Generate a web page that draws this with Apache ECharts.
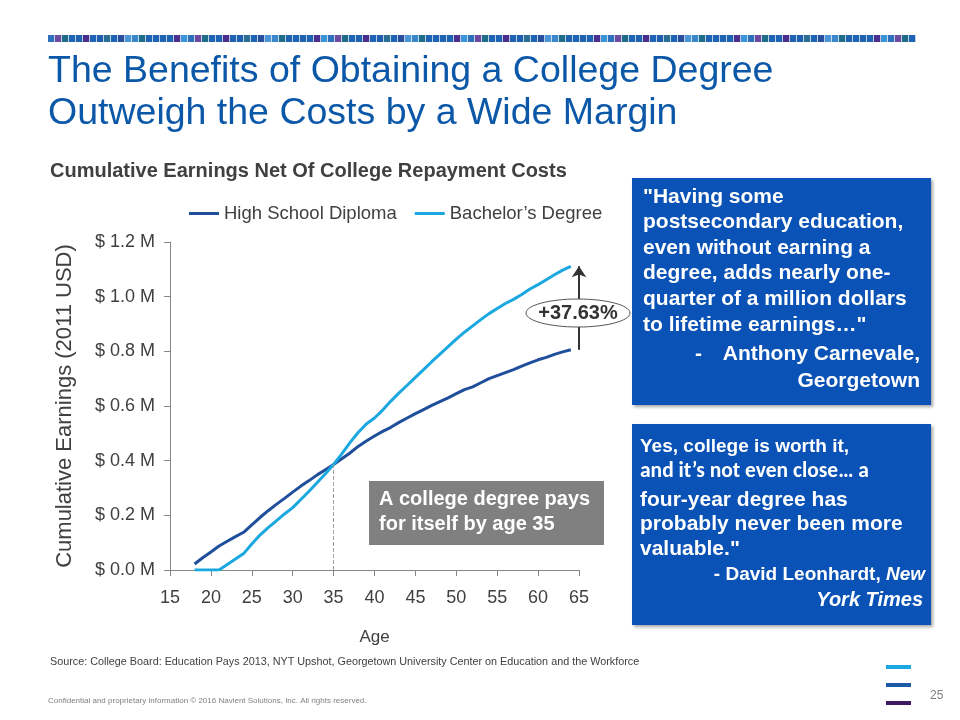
<!DOCTYPE html>
<html>
<head>
<meta charset="utf-8">
<script src="https://cdn.jsdelivr.net/npm/echarts@6/dist/echarts.min.js"></script>
<style>
html,body{margin:0;padding:0;background:#fff;}
#c{width:960px;height:720px;}
</style>
</head>
<body>
<div id="c"></div>
<script>
// ---- data (cumulative earnings, millions of 2011 USD) ----
var ages = [18,19,20,21,22,23,24,25,26,27,28,29,30,31,32,33,34,35,36,37,38,39,40,41,42,43,44,45,46,47,48,49,50,51,52,53,54,55,56,57,58,59,60,61,62,63,64];
var highSchool = [0.022,0.045,0.066,0.088,0.105,0.122,0.138,0.165,0.192,0.217,0.240,0.262,0.285,0.307,0.327,0.348,0.367,0.386,0.407,0.428,0.452,0.472,0.490,0.507,0.522,0.540,0.556,0.572,0.587,0.602,0.616,0.630,0.645,0.660,0.670,0.685,0.700,0.711,0.722,0.733,0.746,0.758,0.769,0.778,0.789,0.798,0.806];
var bachelor = [0,0,0,0,0.020,0.040,0.060,0.095,0.128,0.155,0.180,0.205,0.228,0.258,0.288,0.320,0.352,0.386,0.425,0.466,0.503,0.534,0.556,0.585,0.618,0.648,0.676,0.705,0.733,0.762,0.790,0.817,0.845,0.870,0.893,0.916,0.938,0.957,0.975,0.990,1.008,1.028,1.044,1.062,1.080,1.097,1.111];
var seriesNames = ['High School Diploma', 'Bachelor\u2019s Degree'];
var breakEvenAge = 35;
var gapAge = 65;
var gapLabel = '+37.63%';

function pairs(vals){ return ages.map(function(a,i){ return [a, vals[i]]; }); }

var FONT = 'Liberation Sans, Arial, Helvetica, sans-serif';
var chart = echarts.init(document.getElementById('c'));

// decorative top strip
var stripColors = ['#2f70bd','#6a4ba0','#1f6b8a','#1f63b5','#1f63b5','#4b2f8f','#1f63b5','#1f5fae','#2a6f92','#1f63b5','#2a4f9e','#4b96d6','#3a87cc','#1f6b8a','#1f63b5','#1f63b5','#1f63b5','#1f63b5','#4b2f8f','#3a95d8'];
var graphics = [];
var sx = 48, idx = 0;
while (sx < 910) {
  graphics.push({type:'rect', shape:{x:sx, y:35, width:6.3, height:7}, style:{fill:stripColors[idx % stripColors.length]}});
  sx += 7; idx++;
}

var hsLast = highSchool[highSchool.length-1];
var baLast = bachelor[bachelor.length-1];
var breakEvenVal = highSchool[ages.indexOf(breakEvenAge)];

graphics = graphics.concat([
  {type:'text', left:48, top:53, style:{text:'The Benefits of Obtaining a College Degree', font:'37.5px '+FONT, fill:'#0b57a8'}},
  {type:'text', left:48, top:95, style:{text:'Outweigh the Costs by a Wide Margin', font:'37.5px '+FONT, fill:'#0b57a8'}},
  {type:'text', left:50, top:161, style:{text:'Cumulative Earnings Net Of College Repayment Costs', font:'bold 20px '+FONT, fill:'#404040'}},
  // annotation box
  {type:'rect', z:50, shape:{x:369, y:481, width:235, height:64}, style:{fill:'#808080'}},
  {type:'text', z:51, left:379, top:487, style:{text:'A college degree pays\nfor itself by age 35', font:'bold 20px '+FONT, fill:'#fff', lineHeight:25}},
  // quote box 1
  {type:'rect', z:50, shape:{x:632, y:178, width:299, height:227}, style:{fill:'#0a52b5', shadowBlur:3, shadowOffsetX:2, shadowOffsetY:2, shadowColor:'rgba(0,0,0,0.35)'}},
  {type:'text', z:51, left:643, top:184, style:{text:'"Having some\npostsecondary education,\neven without earning a\ndegree, adds nearly one-\nquarter of a million dollars\nto lifetime earnings\u2026"', font:'bold 21px '+FONT, fill:'#fff', lineHeight:25.6}},
  {type:'text', z:51, left:695, top:344, style:{text:'-', font:'bold 21px '+FONT, fill:'#fff'}},
  {type:'text', z:51, right:40, top:344, style:{text:'Anthony Carnevale,', font:'bold 21px '+FONT, fill:'#fff'}},
  {type:'text', z:51, right:40, top:371, style:{text:'Georgetown', font:'bold 21px '+FONT, fill:'#fff'}},
  // quote box 2
  {type:'rect', z:50, shape:{x:632, y:424, width:299, height:201}, style:{fill:'#0a52b5', shadowBlur:3, shadowOffsetX:2, shadowOffsetY:2, shadowColor:'rgba(0,0,0,0.35)'}},
  {type:'text', z:51, left:640, top:437, style:{text:'Yes, college is worth it,', font:'bold 19px '+FONT, fill:'#fff'}},
  {type:'text', z:51, left:640, top:461, style:{text:'and it\u2019s not even close\u2026 a', font:'bold 21.5px Carlito, Calibri, '+FONT, fill:'#fff'}},
  {type:'text', z:51, left:640, top:488, style:{text:'four-year degree has\nprobably never been more\nvaluable."', font:'bold 21px '+FONT, fill:'#fff', lineHeight:24.3}},
  {type:'text', z:51, right:35, top:565, style:{text:'{n|- David Leonhardt, }{i|New}', rich:{n:{font:'bold 19px '+FONT, fill:'#fff'}, i:{font:'italic bold 19px '+FONT, fill:'#fff'}}}},
  {type:'text', z:51, right:37, top:590, style:{text:'York Times', font:'italic bold 20px '+FONT, fill:'#fff'}},
  // source & footer
  {type:'text', left:50, top:657, style:{text:'Source: College Board: Education Pays 2013, NYT Upshot, Georgetown University Center on Education and the Workforce', font:'10.8px '+FONT, fill:'#404040'}},
  {type:'text', left:48, top:697, style:{text:'Confidential and proprietary information \u00a9 2016 Navient Solutions, Inc. All rights reserved.', font:'8px '+FONT, fill:'#808080'}},
  {type:'text', left:930, top:690, style:{text:'25', font:'12px '+FONT, fill:'#808080'}},
  {type:'rect', shape:{x:886, y:665, width:25, height:4}, style:{fill:'#1aa8e0'}},
  {type:'rect', shape:{x:886, y:683, width:25, height:4}, style:{fill:'#1d5aa6'}},
  {type:'rect', shape:{x:886, y:701, width:25, height:4}, style:{fill:'#3d1a63'}}
]);

var option = {
  animation: false,
  backgroundColor: '#fff',
  color: ['#1f4e9b', '#1ba8e0'],
  legend: {
    data: seriesNames,
    left: 184, top: 199,
    icon: 'rect', itemWidth: 30, itemHeight: 3, itemGap: 18,
    textStyle: {fontFamily: FONT, fontSize: 18.5, color: '#404040'}
  },
  grid: {left: 170, right: 381, top: 242, bottom: 150, containLabel: false},
  xAxis: {
    type: 'value', min: 15, max: 65, interval: 5,
    name: 'Age', nameLocation: 'middle', nameGap: 59,
    nameTextStyle: {fontFamily: FONT, fontSize: 17, color: '#404040'},
    axisLine: {show: true, lineStyle: {color: '#868686', width: 1}},
    axisTick: {show: true, length: 6, lineStyle: {color: '#868686'}},
    axisLabel: {margin: 19, fontFamily: FONT, fontSize: 18, color: '#404040'},
    splitLine: {show: false}
  },
  yAxis: {
    type: 'value', min: 0, max: 1.2, interval: 0.2,
    name: 'Cumulative Earnings (2011 USD)', nameLocation: 'middle', nameGap: 94,
    nameTextStyle: {fontFamily: FONT, fontSize: 22, color: '#404040'},
    axisLine: {show: true, lineStyle: {color: '#868686', width: 1}},
    axisTick: {show: true, length: 6, lineStyle: {color: '#868686'}},
    axisLabel: {margin: 15, fontFamily: FONT, fontSize: 18, color: '#404040',
      formatter: function(v){ return '$ ' + v.toFixed(1) + ' M'; }},
    splitLine: {show: false}
  },
  series: [
    {
      name: seriesNames[0], type: 'line', data: pairs(highSchool),
      symbol: 'none', lineStyle: {width: 3}, z: 3,
      markLine: {
        silent: true, symbol: ['none','none'], label: {show: false},
        lineStyle: {color: '#a0a0a0', type: 'dashed', width: 1},
        data: [[{coord: [breakEvenAge, 0]}, {coord: [breakEvenAge, breakEvenVal]}]]
      }
    },
    {
      name: seriesNames[1], type: 'line', data: pairs(bachelor),
      symbol: 'none', lineStyle: {width: 3}, z: 4,
      markLine: {
        silent: true, label: {show: false}, symbolSize: 11,
        data: [
          [{coord: [gapAge, hsLast], symbol: 'none', lineStyle: {color: '#333', width: 2, type: 'solid'}},
           {coord: [gapAge, baLast], symbol: 'arrow'}],
          [{coord: [gapAge-0.4, hsLast], symbol: 'none', lineStyle: {color: '#555', width: 1, type: 'solid'}},
           {coord: [gapAge+0.4, hsLast], symbol: 'none'}],
          [{coord: [gapAge-0.6, baLast], symbol: 'none', lineStyle: {color: '#999', width: 1, type: 'dotted'}},
           {coord: [gapAge+0.4, baLast], symbol: 'none'}]
        ]
      }
    }
  ],
  graphic: graphics
};
chart.setOption(option);

// ellipse label for the gap, positioned from the data
var p = chart.convertToPixel({gridIndex: 0}, [gapAge, (hsLast + baLast) / 2]);
chart.setOption({graphic: graphics.concat([
  {type:'ellipse', z:100, shape:{cx:p[0]-1, cy:p[1]+5, rx:52, ry:14}, style:{fill:'#fff', stroke:'#555', lineWidth:1}},
  {type:'text', z:101, x:p[0]-1, y:p[1]+5, style:{text:gapLabel, font:'bold 20px '+FONT, fill:'#333', align:'center', verticalAlign:'middle'}}
])});
</script>
</body>
</html>
